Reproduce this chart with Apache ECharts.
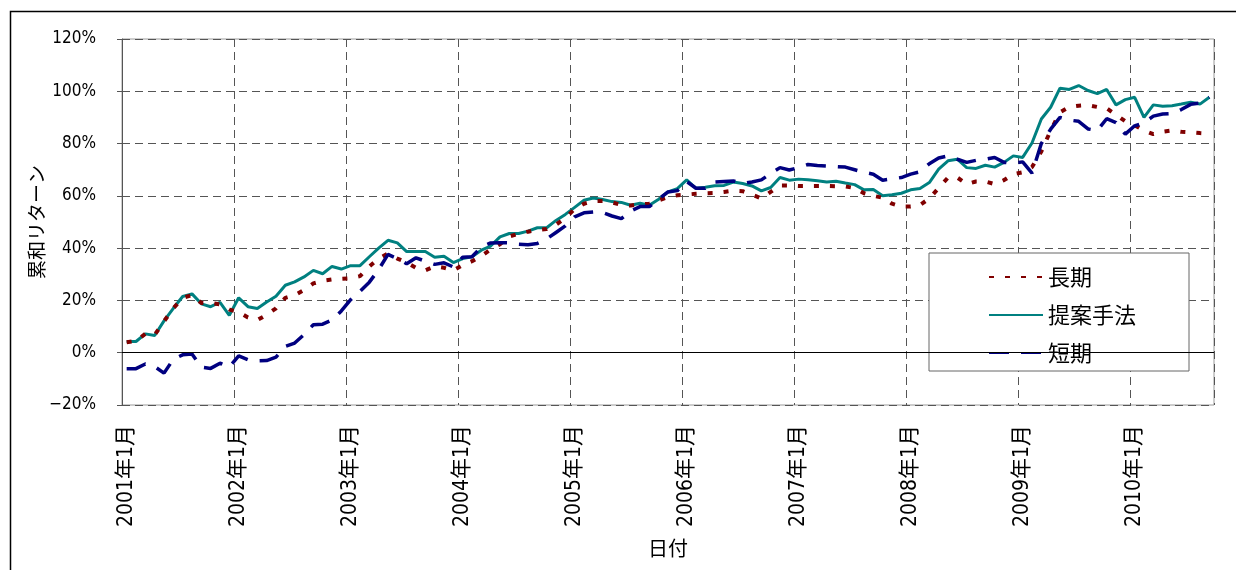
<!DOCTYPE html>
<html>
<head>
<meta charset="utf-8">
<script src="https://cdn.jsdelivr.net/npm/echarts@6/dist/echarts.min.js"></script>
<style>
html,body{margin:0;padding:0;background:#fff;}
#chart{width:1236px;height:570px;}
</style>
</head>
<body>
<div id="chart"></div>
<script>
const startYear = 2001;
const yTicks = [-20, 0, 20, 40, 60, 80, 100, 120];
const seriesNames = ['長期', '提案手法', '短期'];

const longTerm = [
  4, 4.5, 7.2, 6.8, 12, 17, 21, 22, 19, 19, 18.5, 16.5,
  15.6, 13.5, 12.5, 14.5, 17, 21, 22, 24, 26.5, 27.5, 28, 28.3,
  28.5, 29.3, 33, 36, 38, 36, 34.5, 32.5, 31.5, 33, 32.5, 31.5,
  33.5, 35, 37, 39.5, 41.5, 44.5, 45.5, 46.3, 47, 47.3, 49, 51.5,
  55, 57, 58, 58, 57.5, 56.5, 56.3, 56.8, 57, 58.3, 59.5, 60.2,
  60.5, 60.8, 61, 61.1, 61.5, 62, 61.8, 60.5, 59, 61.5, 64, 64,
  63.8, 63.8, 63.8, 63.8, 63.7, 63.6, 63, 61, 60, 59.3, 57, 55.9,
  55.9, 56.5, 59, 63, 67, 67, 64.5, 65.5, 65.5, 64.5, 66, 68.3,
  69, 71, 77, 85, 92, 94, 94.5, 94.7, 94, 93.5, 91, 88.5,
  87, 85, 83.6, 84.5, 85, 84.5, 84.3, 84, 83.8
];
const proposed = [
  4.3, 4.3, 7.2, 6.6, 12.2, 17.0, 21.5, 22.5, 18.7, 17.6, 19.3, 14.3,
  21.0, 17.6, 16.9, 19.4, 21.6, 25.8, 27.1, 29.0, 31.5, 30.2, 33.0, 32.0,
  33.3, 33.3, 36.7, 40.0, 43.0, 42.0, 38.7, 38.7, 38.7, 36.5, 36.9, 34.5,
  36.0, 36.7, 39.2, 40.8, 44.3, 45.6, 45.6, 46.5, 47.8, 47.8, 50.6, 52.9,
  55.6, 58.3, 59.2, 58.6, 57.8, 57.5, 56.4, 57.2, 56.4, 58.7, 61.5, 62.8,
  66.1, 62.9, 63.3, 63.9, 64.0, 65.3, 64.7, 63.8, 61.9, 63.2, 67.0, 66.0,
  66.4, 66.2, 65.8, 65.3, 65.6, 64.9, 64.3, 62.3, 62.4, 60.0, 60.4, 61.0,
  62.3, 62.8, 65.1, 70.2, 73.4, 74.0, 70.8, 70.5, 71.7, 71.0, 72.8, 75.3,
  74.7, 80.2, 89.4, 93.9, 101.2, 100.7, 102.2, 100.3, 99.1, 100.7, 94.8, 96.8,
  97.7, 90.0, 94.8, 94.3, 94.5, 95.1, 95.8, 95.1, 97.7
];
const shortTerm = [
  -6.1, -6.1, -4.3, -5.3, -7.8, -2.5, -0.8, -0.5, -5.5, -6.0, -4.0, -5.5,
  -1.2, -2.7, -3.1, -3.0, -1.7, 2.4, 3.7, 6.9, 10.7, 10.9, 12.5, 16,
  20.3, 23.5, 27, 31.8, 37.6, 36, 34, 36.3, 35, 33.8, 34.4, 32.8,
  36.5, 36.7, 40.5, 42, 42.1, 42, 41.5, 41.3, 41.8, 43.5, 46, 48.5,
  52, 53.5, 53.8, 53.6, 52.3, 51.3, 54.2, 55.9, 55.9, 58.7, 61.5, 62,
  65.5, 62.9, 62.9, 65.3, 65.5, 65.7, 64.7, 65.3, 66.1, 68.5, 70.8, 69.9,
  70.8, 72, 71.6, 71.4, 71.2, 71, 70, 69, 68.3, 66, 66.5, 67,
  68.3, 69.2, 72.3, 74.5, 75.3, 74, 72.8, 73.6, 74, 74.7, 72.8, 72.5,
  73, 68.7, 80, 85.5, 90, 89, 88.5, 85.6, 85, 89.5, 88, 83.6,
  86.8, 88, 90.5, 91.3, 91.5, 93, 95, 95.5, 97.7
];

const months = [];
for (let i = 0; i < proposed.length; i++) {
  const y = startYear + Math.floor(i / 12);
  const m = (i % 12) + 1;
  months.push(y + '年' + m + '月');
}

const numFont = "'Liberation Sans Narrow', 'DejaVu Sans Condensed', 'Liberation Sans', 'Noto Sans CJK JP', sans-serif";
const cjkFont = "'Noto Sans CJK JP', 'Liberation Sans', sans-serif";

const chart = echarts.init(document.getElementById('chart'), null, {renderer: 'canvas'});
chart.setOption({
  animation: false,
  backgroundColor: '#fff',
  graphic: [{
    type: 'rect', left: 8, top: 9, z: -10,
    shape: {width: 1260, height: 600},
    style: {fill: 'none', stroke: '#000', lineWidth: 1.5}
  }],
  grid: {
    left: 122, right: 22, top: 39, bottom: 165,
    show: true, borderColor: '#9a9a9a', borderWidth: 1, backgroundColor: 'transparent'
  },
  legend: {
    orient: 'vertical',
    left: 929, top: 253,
    padding: [12, 53, 6, 59],
    itemGap: 14,
    itemWidth: 54, itemHeight: 14,
    borderColor: '#666', borderWidth: 1,
    backgroundColor: '#fff',
    itemStyle: {opacity: 0},
    textStyle: {fontSize: 22, fontFamily: cjkFont, color: '#000', lineHeight: 24},
    data: seriesNames
  },
  xAxis: {
    type: 'category',
    data: months,
    boundaryGap: true,
    axisLine: {show: false},
    axisTick: {show: false},
    axisLabel: {
      interval: 11, rotate: 90, margin: 20,
      fontSize: 21, fontFamily: numFont, color: '#000'
    },
    splitLine: {show: true, interval: 11, lineStyle: {color: '#555', type: [8, 5], width: 1}},
    name: '日付',
    nameLocation: 'middle',
    nameGap: 133,
    nameTextStyle: {fontSize: 20, fontFamily: cjkFont, color: '#000'}
  },
  yAxis: {
    type: 'value',
    min: -20, max: 120, interval: 20,
    axisLine: {show: true, lineStyle: {color: '#555', width: 1}},
    axisTick: {show: true, length: 5, lineStyle: {color: '#555'}},
    axisLabel: {
      margin: 26, fontSize: 17, fontFamily: numFont, color: '#000',
      formatter: v => (v < 0 ? '\u2212' + Math.abs(v) : v) + '%'
    },
    splitLine: {show: true, lineStyle: {color: '#555', type: [8, 5], width: 1}},
    name: '累和リターン',
    nameLocation: 'middle',
    nameGap: 76,
    nameMoveOverlap: false,
    nameRotate: 90,
    nameTextStyle: {fontSize: 19, fontFamily: cjkFont, color: '#000'}
  },
  series: [
    {
      name: seriesNames[0], type: 'line', data: longTerm,
      symbol: 'none', showSymbol: false,
      lineStyle: {color: '#800000', width: 4, type: [5, 11], cap: 'butt'},
      itemStyle: {color: '#800000'}, z: 3
    },
    {
      name: seriesNames[1], type: 'line', data: proposed,
      symbol: 'none', showSymbol: false,
      lineStyle: {color: '#008080', width: 3, type: 'solid'},
      itemStyle: {color: '#008080'}, z: 2,
      markLine: {
        silent: true, symbol: 'none', label: {show: false},
        lineStyle: {color: '#000', width: 1, type: 'solid'},
        data: [{yAxis: 0}]
      }
    },
    {
      name: seriesNames[2], type: 'line', data: shortTerm,
      symbol: 'none', showSymbol: false,
      lineStyle: {color: '#000080', width: 3.5, type: [20, 12], cap: 'butt'},
      itemStyle: {color: '#000080'}, z: 4
    }
  ]
});
</script>
</body>
</html>
